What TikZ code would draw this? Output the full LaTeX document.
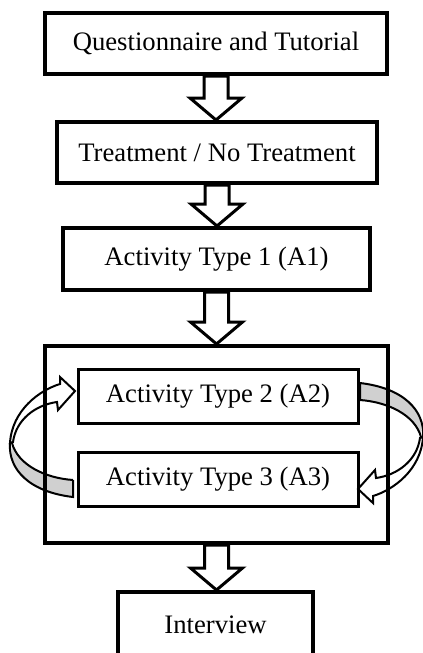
\documentclass[tikz,border=0pt]{standalone}
\usepackage{fontspec}
\setmainfont{Liberation Serif}
\usetikzlibrary{calc}
\definecolor{bandgray}{RGB}{208,208,208}

\tikzset{
  stage/.style={draw, line width=3pt, inner sep=0pt, font=\fontsize{20}{24}\selectfont},
  substage/.style={stage, line width=2.25pt},
  blockarrow/.style={draw, line width=2.25pt, fill=white, line join=miter},
  bentarrow/.style={draw, line width=1.5pt, line join=miter},
}

% hollow down arrow between two stages
\newcommand{\downblock}[2]{%
  \path[blockarrow] let \p1=(#1.south), \p2=(#2.north) in
    (\x1-9pt,\y1) -- (\x1-9pt,\y2+16.5pt) -- (\x1-19.5pt,\y2+16.5pt) -- (\x1,\y2)
    -- (\x1+19.5pt,\y2+16.5pt) -- (\x1+9pt,\y2+16.5pt) -- (\x1+9pt,\y1) -- cycle;}

% curved band arrow, A3 -> A2 on the left
\newcommand{\loopband}{%
  \fill[bandgray] (73,480) .. controls (45,478) and (18,465) .. (12,443)
    .. controls (8,470) and (30,492) .. (73,497) -- cycle;
  \draw[bentarrow] (73,480) .. controls (45,478) and (18,465) .. (12,443);
  \draw[bentarrow, fill=white] (10,443) .. controls (12,410) and (40,390) .. (60,384)
    -- (60,377) -- (75,391) -- (58,410) -- (57,402)
    .. controls (35,405) and (16,420) .. (13,442) -- cycle;
  \draw[bentarrow] (73,480) -- (73,497) .. controls (30,492) and (8,470) .. (10,443);}

\begin{document}
\begin{tikzpicture}[x=0.75pt, y=-0.75pt]
\useasboundingbox (0,0) rectangle (422,653);

% loop arrows
\loopband
\begin{scope}[rotate around={180:(216.5,440)}]
\loopband
\end{scope}

% stages
\node[stage, minimum width=256.5pt, minimum height=45.75pt] (quest) at (216,43.5) {Questionnaire and Tutorial};
\node[stage, minimum width=240pt, minimum height=45.75pt] (treat) at (217,152.5) {Treatment / No Treatment};
\node[stage, minimum width=230.25pt, minimum height=46.5pt] (act1) at (216.5,259) {Activity Type 1 (A1)};
\node[stage, minimum width=257.25pt, minimum height=147.75pt] (loop) at (216.5,444.5) {};
\node[substage, minimum width=210pt, minimum height=40.5pt] (act2) at (218,396) {Activity Type 2 (A2)};
\node[substage, minimum width=210pt, minimum height=40.5pt] (act3) at (218,479) {Activity Type 3 (A3)};
\node[stage, minimum width=146.25pt, minimum height=49.5pt] (interview) at (215.5,625) {Interview};

% flow
\downblock{quest}{treat}
\downblock{treat}{act1}
\downblock{act1}{loop}
\downblock{loop}{interview}
\end{tikzpicture}
\end{document}
